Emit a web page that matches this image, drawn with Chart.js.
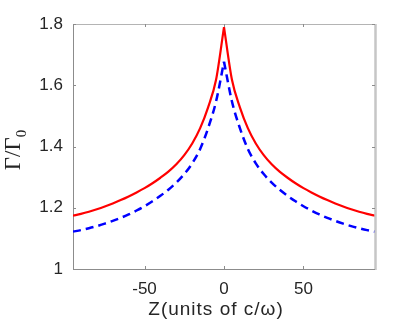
<!DOCTYPE html>
<html>
<head>
<meta charset="utf-8">
<script src="https://cdn.jsdelivr.net/npm/chart.js@4.4.1/dist/chart.umd.min.js"></script>
<style>
  html, body { margin: 0; padding: 0; background: #fff; }
  #wrap { width: 415px; height: 324px; }
</style>
</head>
<body>
<div id="wrap"><canvas id="decay-chart" width="415" height="324"></canvas></div>
<script>
// Z positions (units of c/omega) and the two decay-rate curves
const zValues = [-95, -90, -85, -80, -75, -70, -65, -60, -55, -50, -45, -40, -35, -30, -25, -20, -15, -10, -5, 0,
  5, 10, 15, 20, 25, 30, 35, 40, 45, 50, 55, 60, 65, 70, 75, 80, 85, 90, 95];
const redValues = [1.174, 1.180, 1.187, 1.195, 1.204, 1.214, 1.225, 1.237, 1.250, 1.264, 1.280, 1.298, 1.318, 1.342, 1.372, 1.410, 1.460, 1.528, 1.618, 1.790,
  1.618, 1.528, 1.460, 1.410, 1.372, 1.342, 1.318, 1.298, 1.280, 1.264, 1.250, 1.237, 1.225, 1.214, 1.204, 1.195, 1.187, 1.180, 1.174];
const blueValues = [1.122, 1.127, 1.133, 1.140, 1.148, 1.157, 1.167, 1.178, 1.191, 1.205, 1.221, 1.239, 1.259, 1.282, 1.310, 1.345, 1.392, 1.460, 1.547, 1.677,
  1.547, 1.460, 1.392, 1.345, 1.310, 1.282, 1.259, 1.239, 1.221, 1.205, 1.191, 1.178, 1.167, 1.157, 1.148, 1.140, 1.133, 1.127, 1.122];
const xTicks = [-50, 0, 50];
const yTicks = [1, 1.2, 1.4, 1.6, 1.8];

const axisColor = "#8c8c8c";
const labelColor = "#262626";

// split a curve at Z = 0 so the cusp stays sharp while the flanks are smoothed
function halves(values) {
  const pts = zValues.map((z, i) => ({ x: z, y: values[i] }));
  return [pts.filter(p => p.x <= 0), pts.filter(p => p.x >= 0)];
}

// matlab style box: top/right edges plus inward ticks on every side, and the axis titles
const boxPlugin = {
  id: "matlabBox",
  afterDraw(chart) {
    const { ctx, chartArea: a, scales } = chart;
    ctx.save();
    ctx.strokeStyle = "#b4b4b4";
    ctx.lineWidth = 1;
    ctx.beginPath();
    ctx.moveTo(a.left, a.top + 0.5);
    ctx.lineTo(a.right, a.top + 0.5);
    ctx.stroke();
    ctx.strokeStyle = "#c6c6c6";
    ctx.lineWidth = 2.5;
    ctx.beginPath();
    ctx.moveTo(a.right + 0.5, a.top);
    ctx.lineTo(a.right + 0.5, a.bottom + 1);
    ctx.stroke();

    ctx.strokeStyle = axisColor;
    ctx.lineWidth = 1;
    const tl = 3;
    ctx.beginPath();
    xTicks.forEach(v => {
      const px = Math.round(scales.x.getPixelForValue(v)) + 0.5;
      ctx.moveTo(px, a.bottom); ctx.lineTo(px, a.bottom - tl);
      ctx.moveTo(px, a.top); ctx.lineTo(px, a.top + tl);
    });
    yTicks.forEach(v => {
      const py = Math.round(scales.y.getPixelForValue(v)) + 0.5;
      ctx.moveTo(a.left, py); ctx.lineTo(a.left + tl, py);
      ctx.moveTo(a.right, py); ctx.lineTo(a.right - tl, py);
    });
    ctx.stroke();

    // x title
    ctx.fillStyle = labelColor;
    ctx.font = "19px 'Liberation Sans', Arial, sans-serif";
    ctx.letterSpacing = "1px";
    ctx.textAlign = "center";
    ctx.textBaseline = "alphabetic";
    ctx.fillText("Z(units of c/ω)", 216, 315);
    ctx.letterSpacing = "0px";

    // y title: Γ/Γ with subscript 0, rotated
    ctx.translate(20, 150);
    ctx.rotate(-Math.PI / 2);
    ctx.font = "23px 'Liberation Serif', 'Times New Roman', serif";
    const main = "Γ/Γ";
    const wMain = ctx.measureText(main).width;
    ctx.font = "15px 'Liberation Serif', 'Times New Roman', serif";
    const wSub = ctx.measureText("0").width;
    const start = -(wMain + wSub) / 2;
    ctx.textAlign = "left";
    ctx.font = "23px 'Liberation Serif', 'Times New Roman', serif";
    ctx.fillText(main, start, 0);
    ctx.font = "15px 'Liberation Serif', 'Times New Roman', serif";
    ctx.fillText("0", start + wMain, 6);
    ctx.restore();
  }
};

const [redLeft, redRight] = halves(redValues);
const [blueLeft, blueRight] = halves(blueValues);

const redStyle = { borderColor: "#ff0000", borderWidth: 2.2, pointRadius: 0, cubicInterpolationMode: "monotone" };
const blueStyle = { borderColor: "#0000ff", borderWidth: 2.5, borderDash: [8, 5], pointRadius: 0, cubicInterpolationMode: "monotone" };

const ctx = document.getElementById("decay-chart").getContext("2d");

new Chart(ctx, {
  type: "line",
  data: {
    datasets: [
      { label: "red", data: redLeft, ...redStyle },
      { label: "red", data: redRight, ...redStyle },
      { label: "blue", data: blueLeft, ...blueStyle },
      { label: "blue", data: blueRight, ...blueStyle }
    ]
  },
  options: {
    responsive: false,
    animation: false,
    layout: { padding: { top: 24, right: 40, left: 0, bottom: 0 } },
    plugins: {
      legend: { display: false },
      tooltip: { enabled: false }
    },
    scales: {
      x: {
        type: "linear",
        min: -95,
        max: 95,
        afterBuildTicks: s => { s.ticks = xTicks.map(v => ({ value: v })); },
        afterFit: s => { s.height = 55; },
        grid: { display: false, drawTicks: false },
        border: { display: true, color: axisColor, width: 1 },
        ticks: {
          padding: 10,
          color: labelColor,
          font: { family: "'Liberation Sans', Arial, sans-serif", size: 17 },
          maxRotation: 0
        }
      },
      y: {
        min: 1,
        max: 1.8,
        afterBuildTicks: s => { s.ticks = yTicks.map(v => ({ value: v })); },
        afterFit: s => { s.width = 73; },
        grid: { display: false, drawTicks: false },
        border: { display: true, color: axisColor, width: 1 },
        ticks: {
          padding: 10,
          color: labelColor,
          font: { family: "'Liberation Sans', Arial, sans-serif", size: 17 },
          callback: v => String(Math.round(v * 10) / 10)
        }
      }
    }
  },
  plugins: [boxPlugin]
});
</script>
</body>
</html>
